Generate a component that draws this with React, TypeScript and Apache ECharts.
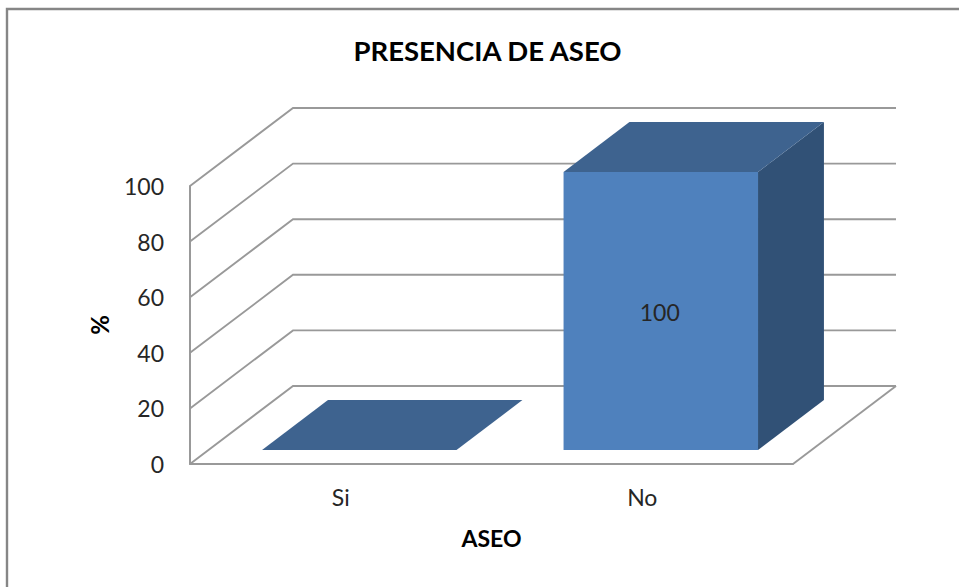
import React, { useEffect, useRef } from "react";
import * as echarts from "echarts";

const categories = ["Si", "No"];
const values = [0, 100];
const yTicks = [0, 20, 40, 60, 80, 100];

// Oblique projection of the chart box: how far the back wall sits from the front plane.
const DEPTH_X = 103;
const DEPTH_Y = -78;
// Bars occupy this slice of the box depth, and this share of a category band.
const BAR_DEPTH_FROM = 0.18;
const BAR_DEPTH_TO = 0.82;
const BAR_BAND_SHARE = 0.645;

const GRID_COLOR = "#999999";
const FRONT_COLOR = "#4f81bd";
const TOP_COLOR = "#3e638f";
const SIDE_COLOR = "#315176";
const TEXT_COLOR = "#262626";
const FONT = "Lato, Carlito, 'Open Sans', sans-serif";

function renderWall(params: any, api: any) {
  const sys = params.coordSys;
  const y = api.coord([0, api.value(1)])[1];
  const left = sys.x;
  const right = sys.x + sys.width;
  const lineStyle = { stroke: GRID_COLOR, lineWidth: 1.9, fill: "none" };
  const children: any[] = [
    {
      type: "polyline",
      shape: {
        points: [
          [left, y],
          [left + DEPTH_X, y + DEPTH_Y],
          [right + DEPTH_X, y + DEPTH_Y],
        ],
      },
      style: lineStyle,
    },
  ];
  if (api.value(1) === 0) {
    children.push({
      type: "line",
      shape: { x1: right, y1: y, x2: right + DEPTH_X, y2: y + DEPTH_Y },
      style: lineStyle,
    });
  }
  return { type: "group", children };
}

function renderBar(_params: any, api: any) {
  const base = api.coord([api.value(0), 0]);
  const top = api.coord([api.value(0), api.value(1)]);
  const half = (api.size([1, 0])[0] * BAR_BAND_SHARE) / 2;
  const dx = DEPTH_X * BAR_DEPTH_FROM;
  const dy = DEPTH_Y * BAR_DEPTH_FROM;
  const bx = DEPTH_X * (BAR_DEPTH_TO - BAR_DEPTH_FROM);
  const by = DEPTH_Y * (BAR_DEPTH_TO - BAR_DEPTH_FROM);
  const x0 = base[0] - half + dx;
  const x1 = base[0] + half + dx;
  const y0 = base[1] + dy;
  const y1 = top[1] + dy;
  const children: any[] = [];
  if (y0 - y1 > 0) {
    children.push(
      {
        type: "polygon",
        shape: { points: [[x1, y0], [x1 + bx, y0 + by], [x1 + bx, y1 + by], [x1, y1]] },
        style: { fill: SIDE_COLOR },
      },
      {
        type: "rect",
        shape: { x: x0, y: y1, width: x1 - x0, height: y0 - y1 },
        style: { fill: FRONT_COLOR },
      },
    );
  }
  children.push({
    type: "polygon",
    shape: { points: [[x0, y1], [x0 + bx, y1 + by], [x1 + bx, y1 + by], [x1, y1]] },
    style: { fill: TOP_COLOR },
  });
  if (api.value(1) > 0) {
    children.push({
      type: "text",
      style: {
        x: (x0 + x1) / 2 - 1,
        y: (y0 + y1) / 2 + 1,
        text: String(api.value(1)),
        fill: TEXT_COLOR,
        font: `23px ${FONT}`,
        align: "center",
        verticalAlign: "middle",
      },
    });
  }
  return { type: "group", children };
}

export default function App() {
  const ref = useRef<HTMLDivElement>(null);

  useEffect(() => {
    const chart = echarts.init(ref.current!, null, { renderer: "svg" });
    chart.setOption({
      animation: false,
      backgroundColor: "#ffffff",
      title: {
        text: "PRESENCIA DE ASEO",
        left: 482.5,
        top: 31,
        textAlign: "center",
        textStyle: { fontFamily: FONT, fontSize: 27.5, fontWeight: "bold", color: "#000000" },
      },
      grid: { left: 190, right: 166, top: 186, bottom: 123 },
      xAxis: {
        type: "category",
        data: categories,
        name: "ASEO",
        nameLocation: "middle",
        nameGap: 62,
        nameTextStyle: { fontFamily: FONT, fontSize: 23, fontWeight: "bold", color: "#000000" },
        axisLine: { lineStyle: { color: GRID_COLOR, width: 2 } },
        axisTick: { show: false },
        axisLabel: { fontFamily: FONT, fontSize: 23, color: TEXT_COLOR, margin: 21 },
        splitLine: { show: false },
      },
      yAxis: {
        type: "value",
        min: 0,
        max: 100,
        interval: 20,
        name: "%",
        nameLocation: "middle",
        nameGap: 79,
        nameRotate: 90,
        nameTextStyle: { fontFamily: FONT, fontSize: 24, fontWeight: "bold", color: "#000000" },
        axisLine: { show: true, lineStyle: { color: GRID_COLOR, width: 2 } },
        axisTick: { show: false },
        axisLabel: { fontFamily: FONT, fontSize: 23, color: TEXT_COLOR, margin: 26, padding: [4, 0, 0, 0] },
        splitLine: { show: false },
      },
      series: [
        {
          type: "custom",
          name: "walls",
          renderItem: renderWall,
          data: yTicks.map((t) => [0, t]),
          encode: { x: 0, y: 1 },
          clip: false,
          silent: true,
          z: 1,
        },
        {
          type: "custom",
          name: "ASEO",
          renderItem: renderBar,
          data: values.map((v, i) => [i, v]),
          encode: { x: 0, y: 1 },
          clip: false,
          z: 3,
        },
      ],
      graphic: [
        {
          type: "polyline",
          shape: { points: [[7, 587], [7, 9], [959, 9]] },
          style: { stroke: "#868686", lineWidth: 2.4, fill: "none" },
          silent: true,
        },
      ],
    });
    return () => chart.dispose();
  }, []);

  return (
    <div
      ref={ref}
      style={{ position: "fixed", left: 0, top: 0, width: 959, height: 587 }}
    />
  );
}
